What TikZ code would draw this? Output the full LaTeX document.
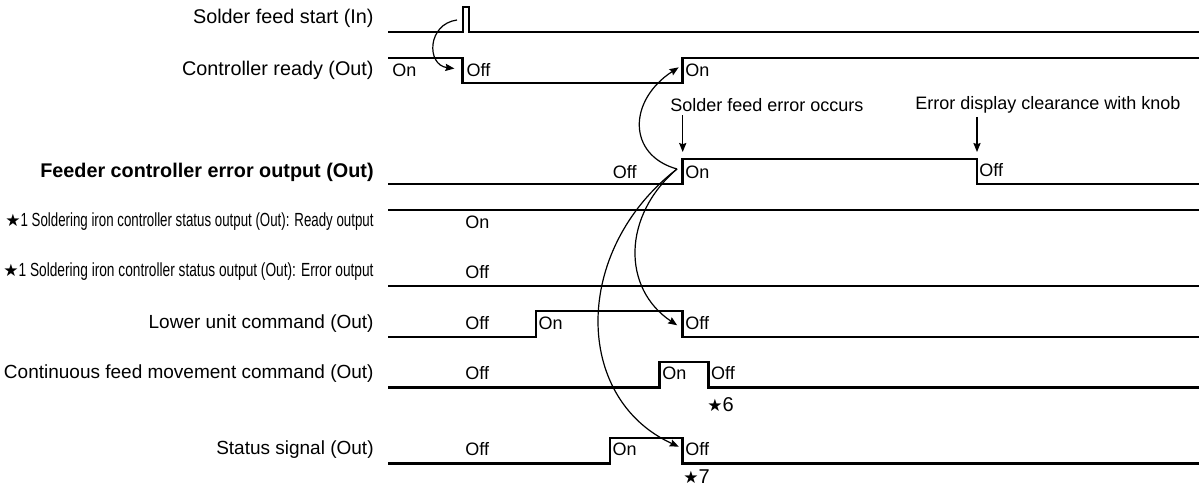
\documentclass[tikz,border=0pt]{standalone}
\usepackage{fontspec}
\setmainfont{Liberation Sans}
\newfontfamily\symfont{DejaVu Sans}
\usetikzlibrary{arrows.meta}
\newcommand{\blkstar}{{\symfont\fontsize{8.5}{9}\selectfont ★}}

\tikzset{
  wave/.style={line width=1.3pt, line join=miter},
  signame/.style={anchor=east, inner sep=0pt, font=\fontsize{9.5}{12}\selectfont},
  state/.style={anchor=west, inner sep=0pt, font=\fontsize{9}{11}\selectfont},
  note/.style={anchor=west, inner sep=0pt, font=\fontsize{9}{11}\selectfont},
  mark6/.style={anchor=west, inner sep=0pt, font=\fontsize{10}{12}\selectfont},
  cause/.style={line width=0.6pt, -{Stealth[length=4.5pt,width=3.6pt,inset=0.6pt]}},
}

\begin{document}
\begin{tikzpicture}[x=0.5pt,y=-0.5pt]
\useasboundingbox (0,0) rectangle (1200,487);
% signal names
\node[signame,font=\fontsize{9.9}{12}\selectfont] (nstart) at (374,18) {Solder feed start (In)};
\node[signame,font=\fontsize{9.9}{12}\selectfont] (nready) at (374,70) {Controller ready (Out)};
\node[signame,font=\fontsize{9.9}{12}\selectfont\bfseries] (nerr) at (374,172) {Feeder controller error output (Out)};
\node[signame] (nsrdy) at (374,222) {\blkstar\resizebox{176.5pt}{\height}{1 Soldering iron controller status output (Out): Ready output}};
\node[signame] (nserr) at (374,272) {\blkstar\resizebox{177.5pt}{\height}{1 Soldering iron controller status output (Out): Error output}};
\node[signame] (nlow) at (374,323.5) {Lower unit command (Out)};
\node[signame] (nfeed) at (374,373.5) {Continuous feed movement command (Out)};
\node[signame] (nstat) at (374,449.5) {Status signal (Out)};

% wave forms
\draw[wave] (388,32) -- (463,32) -- (463,7) -- (469,7) -- (469,32) -- (1199,32);
\draw[wave] (388,58) -| (462.5,83) -| (682.7,58) -- (1199,58);
\draw[wave] (388,184) -| (682.7,159) -| (977,184) -- (1199,184);
\draw[wave] (388,210) -- (1199,210);
\draw[wave] (388,286) -- (1199,286);
\draw[wave] (388,337) -| (536,311) -| (682.7,337) -- (1199,337);
\draw[wave] (388,387.5) -| (659.3,362) -| (708.3,387.5) -- (1199,387.5);
\draw[wave] (388,463.5) -| (610,438) -| (682.7,463.5) -- (1199,463.5);
\coordinate (pls) at (457,20);
\coordinate (errpt) at (677,169);
\coordinate (rise3) at (682.7,159);
\coordinate (fall3) at (977,159);

% states
\node[state] (on2a) at (392,70) {On};
\node[state] (off2) at (466.3,70) {Off};
\node[state] (on2) at (685,70) {On};
\node[state,anchor=east] (off3a) at (637,172) {Off};
\node[state] (on3) at (685,172) {On};
\node[state] (off3) at (979,170) {Off};
\node[state] (on4) at (465,222) {On};
\node[state] (off5) at (465,272) {Off};
\node[state] (off6a) at (465,323.5) {Off};
\node[state] (on6) at (538.3,323.5) {On};
\node[state] (off6) at (685,323.5) {Off};
\node[state] (off7a) at (465,373.5) {Off};
\node[state] (on7) at (662,373.5) {On};
\node[state] (off7) at (710.7,373.5) {Off};
\node[mark6] (st6) at (707,405) {\blkstar6};
\node[state] (off8a) at (465,449.5) {Off};
\node[state] (on8) at (612.3,449.5) {On};
\node[state] (off8) at (685,449.5) {Off};
\node[mark6] (st7) at (683,477) {\blkstar7};

% events
\node[note] (occ) at (670,105) {Solder feed error occurs};
\node[note] (clr) at (915,105) {Error display clearance with knob};
\draw[cause,shorten <=1.5pt,shorten >=3.5pt] (occ.south -| rise3) -- (rise3);
\draw[cause,shorten <=1.5pt,shorten >=3.5pt] (clr.south -| fall3) -- (fall3);

% cause arrows
\draw[cause,shorten >=6pt] (pls) .. controls +(-30,4) and +(-40,-5) .. (off2.west);
\draw[cause,shorten >=3.8pt] (errpt) .. controls +(-50,-14) and +(-57,37) .. (on2.north west);
\draw[cause,shorten >=4.7pt] (errpt) .. controls +(-55,47) and +(-63,-42) .. (off6.south west);
\draw[cause,shorten >=3.4pt] (errpt) .. controls +(-105,81) and +(-112,-51) .. (off8.west);
\end{tikzpicture}
\end{document}
